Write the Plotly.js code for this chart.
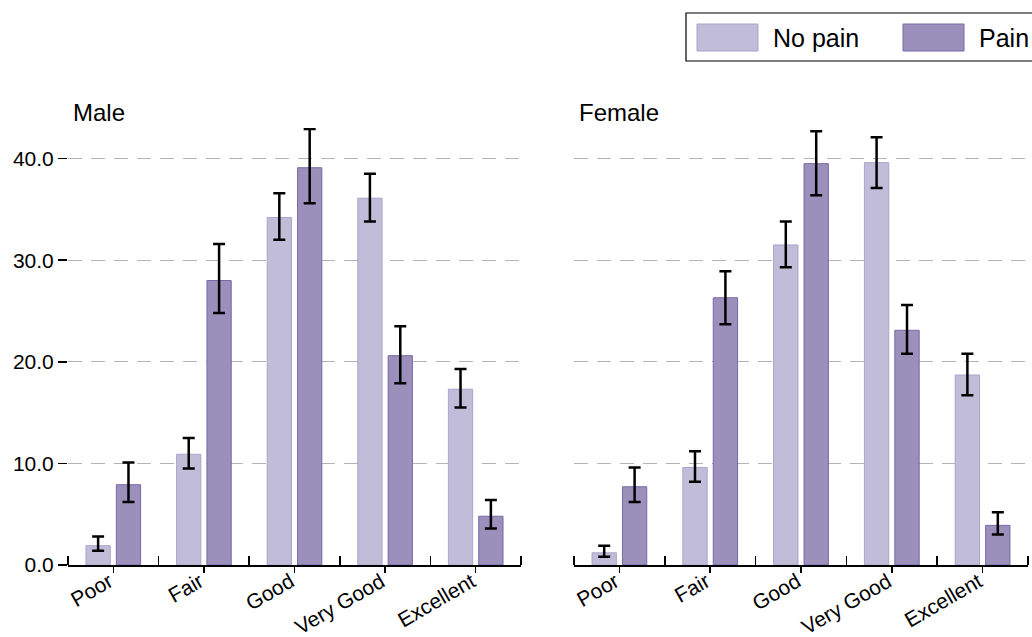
<!DOCTYPE html>
<html>
<head>
<meta charset="utf-8">
<script src="https://cdn.plot.ly/plotly-3.0.1.min.js"></script>
<style>html,body{margin:0;padding:0;background:#fff;}#chart{width:1032px;height:637px;}</style>
</head>
<body>
<div id="chart"></div>
<script>
const categories = ['Poor', 'Fair', 'Good', 'Very Good', 'Excellent'];
const panels = ['Male', 'Female'];
const seriesNames = ['No pain', 'Pain'];

// Male
const maleNoPain = [1.9, 10.9, 34.2, 36.1, 17.3];
const maleNoPainUpper = [2.8, 12.5, 36.6, 38.5, 19.3];
const maleNoPainLower = [1.4, 9.5, 32.0, 33.8, 15.5];
const malePain = [7.9, 28.0, 39.1, 20.6, 4.8];
const malePainUpper = [10.1, 31.6, 42.9, 23.5, 6.4];
const malePainLower = [6.2, 24.8, 35.6, 17.9, 3.6];

// Female
const femaleNoPain = [1.2, 9.6, 31.5, 39.6, 18.7];
const femaleNoPainUpper = [1.9, 11.2, 33.8, 42.1, 20.8];
const femaleNoPainLower = [0.8, 8.2, 29.3, 37.1, 16.7];
const femalePain = [7.7, 26.3, 39.5, 23.1, 3.9];
const femalePainUpper = [9.6, 28.9, 42.7, 25.6, 5.2];
const femalePainLower = [6.2, 23.7, 36.4, 20.8, 3.0];

const yTicks = [0, 10, 20, 30, 40];

const fillColors = ['rgb(193,188,215)', 'rgb(155,144,187)'];
const lineColors = ['rgb(172,163,204)', 'rgb(120,104,168)'];
const FONT = 'Liberation Sans, Arial, sans-serif';

const xPos = categories.map((c, i) => i);

function barTrace(vals, up, lo, k, xa, ya) {
  return {
    type: 'bar',
    name: seriesNames[k],
    x: xPos,
    y: vals,
    xaxis: xa, yaxis: ya,
    showlegend: false,
    marker: {color: fillColors[k], line: {color: lineColors[k], width: 1}},
    error_y: {
      type: 'data', symmetric: false,
      array: up.map((u, i) => u - vals[i]),
      arrayminus: lo.map((l, i) => vals[i] - l),
      color: 'black', thickness: 2.5, width: 6
    },
    hoverinfo: 'skip'
  };
}

const traces = [
  barTrace(maleNoPain, maleNoPainUpper, maleNoPainLower, 0, 'x', 'y'),
  barTrace(malePain, malePainUpper, malePainLower, 1, 'x', 'y'),
  barTrace(femaleNoPain, femaleNoPainUpper, femaleNoPainLower, 0, 'x2', 'y2'),
  barTrace(femalePain, femalePainUpper, femalePainLower, 1, 'x2', 'y2')
];

const W = 1032, H = 637;
const yDomain = [72 / H, (H - 128.1) / H];

function xAxis(domain, anchor) {
  return {
    domain: domain, anchor: anchor,
    range: [-0.5, categories.length - 0.5],
    tickmode: 'array', tickvals: xPos, ticktext: categories,
    ticks: 'outside', ticklen: 6, tickwidth: 1.5, tickcolor: 'black',
    tickangle: -30,
    ticklabelstandoff: -11,
    ticklabelshift: -4,
    tickfont: {family: FONT, size: 21, color: 'black'},
    minor: {ticks: 'inside', tickmode: 'linear', tick0: -0.5, dtick: 1, ticklen: 9, tickwidth: 1.5, tickcolor: 'black', showgrid: false},
    showline: true, linecolor: 'black', linewidth: 1.5,
    showgrid: false, zeroline: false, fixedrange: true, automargin: false
  };
}

function yAxis(anchor, showLabels) {
  return {
    domain: yDomain, anchor: anchor,
    range: [0, 43],
    tickmode: 'array', tickvals: yTicks,
    tickformat: '.1f',
    showticklabels: showLabels,
    ticks: showLabels ? 'outside' : '', ticklen: 9, tickwidth: 1.5, tickcolor: 'black',
    tickfont: {family: FONT, size: 21, color: 'black'},
    showline: false, zeroline: false,
    showgrid: true, gridcolor: '#b4b4b4', gridwidth: 1, griddash: '14px,9px',
    fixedrange: true, automargin: false
  };
}

const legendShapes = [
  {type: 'rect', xref: 'paper', yref: 'paper', x0: 686 / W, x1: 1040 / W, y0: (H - 61) / H, y1: (H - 13) / H,
   line: {color: 'black', width: 1.2}, fillcolor: 'white'},
  {type: 'rect', xref: 'paper', yref: 'paper', x0: 697 / W, x1: 758 / W, y0: (H - 51) / H, y1: (H - 24) / H,
   line: {color: lineColors[0], width: 1}, fillcolor: fillColors[0]},
  {type: 'rect', xref: 'paper', yref: 'paper', x0: 903 / W, x1: 964 / W, y0: (H - 51) / H, y1: (H - 24) / H,
   line: {color: lineColors[1], width: 1}, fillcolor: fillColors[1]}
];

const annotations = [
  {text: panels[0], xref: 'paper', yref: 'paper', x: 71 / W, y: (H - 112) / H, xanchor: 'left', yanchor: 'middle',
   showarrow: false, font: {family: FONT, size: 24, color: 'black'}},
  {text: panels[1], xref: 'paper', yref: 'paper', x: 577 / W, y: (H - 112) / H, xanchor: 'left', yanchor: 'middle',
   showarrow: false, font: {family: FONT, size: 24, color: 'black'}},
  {text: seriesNames[0], xref: 'paper', yref: 'paper', x: 771 / W, y: (H - 38) / H, xanchor: 'left', yanchor: 'middle',
   showarrow: false, font: {family: FONT, size: 25, color: 'black'}},
  {text: seriesNames[1], xref: 'paper', yref: 'paper', x: 977 / W, y: (H - 38) / H, xanchor: 'left', yanchor: 'middle',
   showarrow: false, font: {family: FONT, size: 25, color: 'black'}}
];

const layout = {
  width: W, height: H,
  margin: {l: 0, r: 0, t: 0, b: 0, pad: 0},
  paper_bgcolor: 'white', plot_bgcolor: 'white',
  barmode: 'group', bargap: 0.33, bargroupgap: 0.2,
  font: {family: FONT, color: 'black'},
  showlegend: false,
  xaxis: xAxis([68 / W, 521 / W], 'y'),
  yaxis: yAxis('x', true),
  xaxis2: xAxis([574 / W, 1028 / W], 'y2'),
  yaxis2: yAxis('x2', false),
  shapes: legendShapes,
  annotations: annotations
};

Plotly.newPlot('chart', traces, layout, {displayModeBar: false, staticPlot: true});
</script>
</body>
</html>
